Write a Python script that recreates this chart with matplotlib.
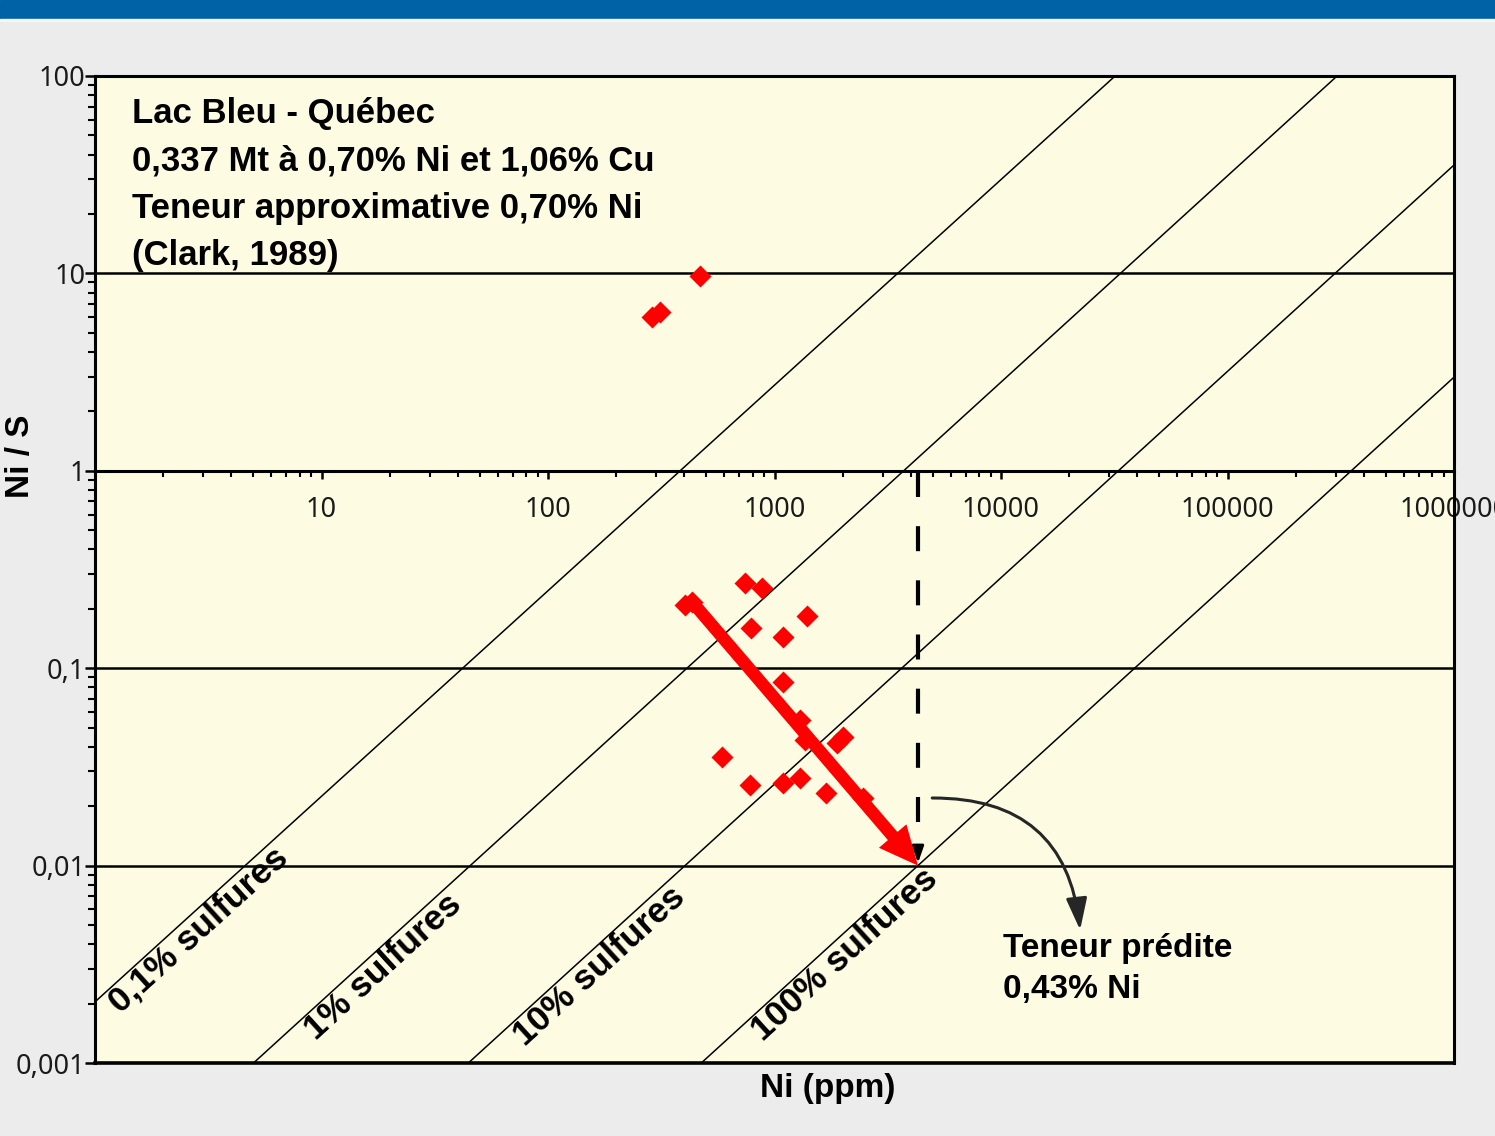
import matplotlib
matplotlib.use("Agg")
import matplotlib.pyplot as plt
import numpy as np
from matplotlib.patches import Rectangle
from matplotlib.ticker import LogLocator, NullFormatter

plt.rcParams["font.family"] = ["Liberation Sans", "DejaVu Sans"]

# Échantillons : Ni (ppm) et rapport Ni/S
ni_ppm = [289, 313, 471, 404, 434, 743, 883, 1396, 790, 1094, 1094, 1300,
          1368, 1893, 2014, 588, 782, 1094, 1300, 1693, 2465]
ni_s = [6.01, 6.37, 9.70, 0.209, 0.216, 0.270, 0.255, 0.184, 0.160, 0.144,
        0.0851, 0.0547, 0.0433, 0.0418, 0.0448, 0.0355, 0.0256, 0.0262,
        0.0278, 0.0233, 0.0220]

# Droites d'iso-teneur en sulfures (extrémités Ni, Ni/S)
sulf_labels = ["0,1% sulfures", "1% sulfures", "10% sulfures", "100% sulfures"]
sulf_ni_start = [1, 5.01, 44.5, 475]
sulf_ratio_start = [0.00204, 0.001, 0.001, 0.001]
sulf_ni_end = [31900, 304700, 1e6, 1e6]
sulf_ratio_end = [100, 100, 35.4, 2.98]
sulf_label_ni = [1.08, 7.9, 66, 745]

# Tendance et teneur prédite
trend_start = (434, 0.216)
pred_ni = 4300
pred_ratio = 0.01

x_ticks = [10, 100, 1000, 10000, 100000, 1000000]
x_tick_labels = ["10", "100", "1000", "10000", "100000", "1000000"]
y_ticks = [0.001, 0.01, 0.1, 1, 10, 100]
y_tick_labels = ["0,001", "0,01", "0,1", "1", "10", "100"]

title_lines = ["Lac Bleu - Québec",
               "0,337 Mt à 0,70% Ni et 1,06% Cu",
               "Teneur approximative 0,70% Ni",
               "(Clark, 1989)"]
pred_lines = ["Teneur prédite", "0,43% Ni"]

W, H = 1495, 1136
fig = plt.figure(figsize=(W / 100, H / 100), dpi=100)
fig.patch.set_facecolor("#ebeceb")
fig.patches.append(Rectangle((0, 1 - 19 / H), 1, 19 / H, transform=fig.transFigure,
                             color="#0062a6", zorder=0))
fig.patches.append(Rectangle((0, 1 - 21 / H), 1, 2 / H, transform=fig.transFigure,
                             color="#f4f6f8", zorder=0))

ax = fig.add_axes([95 / W, 1 - 1063 / H, (1454 - 95) / W, (1063 - 76) / H])
ax.set_facecolor("#fefbe3")
ax.set_xscale("log")
ax.set_yscale("log")
ax.set_xlim(1, 1e6)
ax.set_ylim(1e-3, 100)

# cadre + axe des x qui coupe à Ni/S = 1
for side in ["left", "right", "top"]:
    ax.spines[side].set_linewidth(2.2)
ax.spines["bottom"].set_position(("data", 1))
ax.spines["bottom"].set_linewidth(2.2)
ax.axhline(1e-3, color="black", lw=2.6, clip_on=False, zorder=6)
for yv in [0.01, 0.1, 10]:
    ax.axhline(yv, color="black", lw=1.8, zorder=1)

ax.set_xticks(x_ticks, labels=x_tick_labels)
ax.xaxis.set_minor_locator(LogLocator(base=10, subs=np.arange(2, 10)))
ax.xaxis.set_minor_formatter(NullFormatter())
ax.tick_params(axis="x", which="major", direction="out", length=6, width=1.8,
               pad=12, labelsize=19.5)
ax.tick_params(axis="x", which="minor", direction="out", length=4, width=1.5)

ax.set_yticks(y_ticks, labels=y_tick_labels)
ax.yaxis.set_minor_locator(LogLocator(base=10, subs=np.arange(2, 10)))
ax.yaxis.set_minor_formatter(NullFormatter())
ax.tick_params(axis="y", which="major", direction="out", length=7, width=1.8,
               pad=0, labelsize=19.5)
ax.tick_params(axis="y", which="minor", direction="out", length=5, width=1.5)
for lab in ax.get_xticklabels() + ax.get_yticklabels():
    lab.set_fontfamily(["Noto Sans", "DejaVu Sans"])
    lab.set_color("#1a1a1a")

# droites de sulfures et leurs étiquettes
for i, name in enumerate(sulf_labels):
    xs = [sulf_ni_start[i], sulf_ni_end[i]]
    ys = [sulf_ratio_start[i], sulf_ratio_end[i]]
    ax.plot(xs, ys, color="black", lw=1.1, zorder=2)
    lx0, lx1 = np.log10(xs)
    ly0, ly1 = np.log10(ys)
    slope = (ly1 - ly0) / (lx1 - lx0)
    lx = np.log10(sulf_label_ni[i])
    ly = 10 ** (ly0 + (lx - lx0) * slope)
    p0 = ax.transData.transform((xs[0], ys[0]))
    p1 = ax.transData.transform((xs[1], ys[1]))
    angle = np.degrees(np.arctan2(p1[1] - p0[1], p1[0] - p0[0]))
    ax.text(sulf_label_ni[i], ly, name, rotation=angle, rotation_mode="anchor",
            ha="left", va="top", fontsize=25.5, fontweight="bold", zorder=7)

# échantillons
ax.plot(ni_ppm, ni_s, "D", color="red", ms=11.5, mec="none", zorder=5)

# flèche de tendance vers la teneur prédite
ax.annotate("", xy=(pred_ni, pred_ratio), xytext=trend_start,
            arrowprops=dict(arrowstyle="simple,head_length=1.4,head_width=1.3,tail_width=0.45",
                            mutation_scale=20, fc="red", ec="red", lw=0,
                            shrinkA=0, shrinkB=0), zorder=8)

# projection verticale pointillée
ax.plot([pred_ni, pred_ni], [0.986, 0.0115], color="black", lw=3,
        linestyle=(0, (6, 7)), zorder=6)
ax.annotate("", xy=(pred_ni, 0.0103), xytext=(pred_ni, 0.0125),
            arrowprops=dict(arrowstyle="-|>,head_length=1.0,head_width=0.35",
                            mutation_scale=10, color="black", lw=2,
                            shrinkA=0, shrinkB=0), zorder=7)

# flèche courbe vers le texte
ax.annotate("", xy=(22350, 0.00472), xytext=(4970, 0.022),
            arrowprops=dict(arrowstyle="-|>,head_length=0.97,head_width=0.32",
                            mutation_scale=20, color="#262626", lw=2.2,
                            connectionstyle="arc3,rad=-0.45",
                            shrinkA=0, shrinkB=0), zorder=7)

for i, line in enumerate(title_lines):
    fig.text(132 / W, 1 - (123 + 47.5 * i) / H, line, fontsize=25,
             fontweight="bold", va="baseline", ha="left", zorder=10)
for i, line in enumerate(pred_lines):
    fig.text(1003 / W, 1 - (957 + 41 * i) / H, line, fontsize=24,
             fontweight="bold", va="baseline", ha="left", zorder=10)

fig.text(828 / W, 1 - 1088 / H, "Ni (ppm)", fontsize=24, fontweight="bold",
         ha="center", va="center")
fig.text(20 / W, 1 - 456 / H, "Ni / S", fontsize=24, fontweight="bold",
         rotation=90, ha="center", va="center")

fig.savefig("out.png", dpi=100, facecolor=fig.get_facecolor())
